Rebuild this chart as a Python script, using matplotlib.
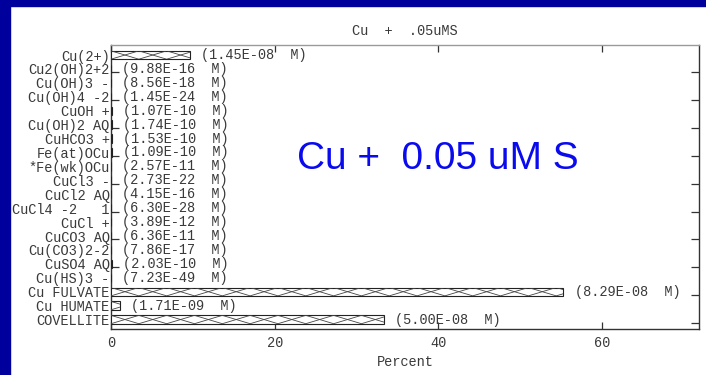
import matplotlib
matplotlib.use("Agg")
import matplotlib.pyplot as plt
import numpy as np
from matplotlib.patches import Rectangle

# Copper species and their computed concentrations (mol/L)
species = [
    "Cu(2+)", "Cu2(OH)2+2", "Cu(OH)3 -", "Cu(OH)4 -2", "CuOH +",
    "Cu(OH)2 AQ", "CuHCO3 +", "Fe(at)OCu", "*Fe(wk)OCu", "CuCl3 -",
    "CuCl2 AQ", "CuCl4 -2   1", "CuCl +", "CuCO3 AQ", "Cu(CO3)2-2",
    "CuSO4 AQ", "Cu(HS)3 -", "Cu FULVATE", "Cu HUMATE", "COVELLITE",
]
conc_labels = [
    "1.45E-08", "9.88E-16", "8.56E-18", "1.45E-24", "1.07E-10",
    "1.74E-10", "1.53E-10", "1.09E-10", "2.57E-11", "2.73E-22",
    "4.15E-16", "6.30E-28", "3.89E-12", "6.36E-11", "7.86E-17",
    "2.03E-10", "7.23E-49", "8.29E-08", "1.71E-09", "5.00E-08",
]
x_ticks = [0, 20, 40, 60]
chart_title = "Cu  +  .05uMS"
overlay_text = "Cu +  0.05 uM S"

conc = np.array([float(c) for c in conc_labels])
percent = conc / conc.sum() * 100.0

NAVY = "#00009C"
INK = "#3a3a3a"
MONO = "Liberation Mono"

fig = plt.figure(figsize=(7.06, 3.75), dpi=100, facecolor="white")
ax = fig.add_axes([111 / 706, 46 / 375, 588 / 706, 284 / 375])

rows = np.arange(len(species))
bar_h = 0.6
bars = ax.barh(rows, percent, height=bar_h, color="white",
               edgecolor="#222222", linewidth=0.8, zorder=3)

# elongated cross-hatching drawn as two opposite-phase zig-zags per bar
half = 3.4
for rect, val in zip(bars, percent):
    y0 = rect.get_y()
    y1 = y0 + rect.get_height()
    if val <= 0.5:
        continue
    n = int(np.ceil(val / half)) + 1
    xs = np.arange(n + 1) * half
    ya = np.where(np.arange(n + 1) % 2 == 0, y0, y1)
    yb = np.where(np.arange(n + 1) % 2 == 0, y1, y0)
    for ys in (ya, yb):
        ln, = ax.plot(xs, ys, color="#444444", lw=0.6, zorder=4)
        ln.set_clip_path(rect)

# concentration annotations after each bar
for r, val, lab in zip(rows, percent, conc_labels):
    ax.annotate(f"({lab}  M)", xy=(val, r), xytext=(8, 0),
                textcoords="offset points", va="center", ha="left",
                fontsize=9.8, family=MONO, color=INK, zorder=5)

ax.set_xlim(0, 71.85)
ax.set_ylim(len(species) - 1 + 0.68, -0.72)

ax.set_yticks(rows)
ax.set_yticklabels(species, family=MONO, fontsize=9.8, color=INK)
ax.set_yticks(np.arange(1, len(species), 2) + 0.25, minor=True)
ax.tick_params(axis="y", which="major", length=0, pad=1)
ax.tick_params(axis="y", which="minor", left=True, right=True,
               direction="in", length=6, width=0.9, color="#333333")

ax.set_xticks(x_ticks)
ax.set_xticklabels([str(t) for t in x_ticks], family=MONO, fontsize=9.8,
                   color=INK)
ax.tick_params(axis="x", which="major", top=True, bottom=True,
               direction="in", length=5, width=0.9, color="#333333", pad=5)

ax.set_xlabel("Percent", family=MONO, fontsize=9.8, color=INK, labelpad=4)
ax.set_title(chart_title, family=MONO, fontsize=9.8, color=INK, pad=7)

for side in ("left", "bottom", "right"):
    ax.spines[side].set_color("#333333")
    ax.spines[side].set_linewidth(1.0)
ax.spines["top"].set_color("#9a9a9a")
ax.spines["top"].set_linewidth(1.0)

ax.text(0.555, 0.60, overlay_text, transform=ax.transAxes,
        family="Liberation Sans", fontsize=28, color="#0a0aee",
        ha="center", va="center", zorder=6)

# frame strips along the top and left edges
fig.patches.append(Rectangle((0, 369 / 375), 1, 6 / 375, transform=fig.transFigure,
                             color=NAVY, zorder=10))
fig.patches.append(Rectangle((0, 0), 10 / 706, 1, transform=fig.transFigure,
                             color=NAVY, zorder=10))

fig.savefig("out.png", dpi=100, facecolor="white")
